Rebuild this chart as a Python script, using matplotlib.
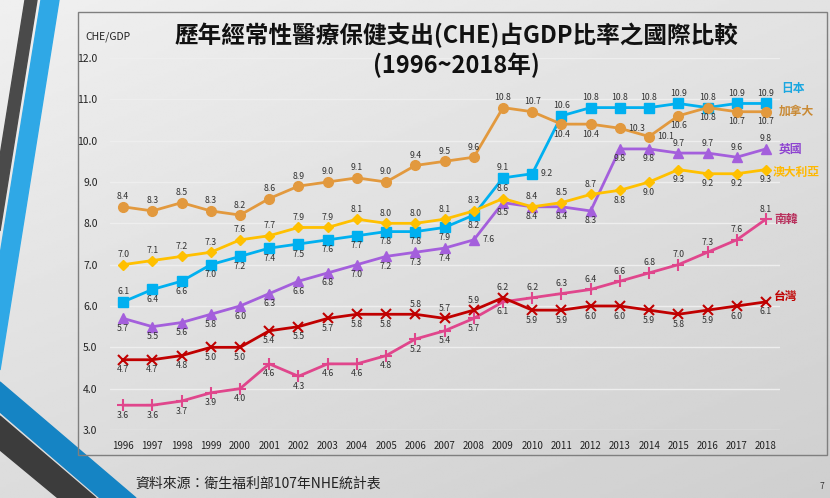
import numpy as np
import matplotlib.pyplot as plt
from matplotlib.patches import Polygon, Rectangle

plt.rcParams['font.family'] = ['Noto Sans CJK TC', 'DejaVu Sans']

years = list(range(1996, 2019))

japan = [6.1, 6.4, 6.6, 7.0, 7.2, 7.4, 7.5, 7.6, 7.7, 7.8, 7.8, 7.9, 8.2,
         9.1, 9.2, 10.6, 10.8, 10.8, 10.8, 10.9, 10.8, 10.9, 10.9]
canada = [8.4, 8.3, 8.5, 8.3, 8.2, 8.6, 8.9, 9.0, 9.1, 9.0, 9.4, 9.5, 9.6,
          10.8, 10.7, 10.4, 10.4, 10.3, 10.1, 10.6, 10.8, 10.7, 10.7]
australia = [7.0, 7.1, 7.2, 7.3, 7.6, 7.7, 7.9, 7.9, 8.1, 8.0, 8.0, 8.1, 8.3,
             8.6, 8.4, 8.5, 8.7, 8.8, 9.0, 9.3, 9.2, 9.2, 9.3]
uk = [5.7, 5.5, 5.6, 5.8, 6.0, 6.3, 6.6, 6.8, 7.0, 7.2, 7.3, 7.4, 7.6,
      8.5, 8.4, 8.4, 8.3, 9.8, 9.8, 9.7, 9.7, 9.6, 9.8]
korea = [3.6, 3.6, 3.7, 3.9, 4.0, 4.6, 4.3, 4.6, 4.6, 4.8, 5.2, 5.4, 5.7,
         6.1, 6.2, 6.3, 6.4, 6.6, 6.8, 7.0, 7.3, 7.6, 8.1]
taiwan = [4.7, 4.7, 4.8, 5.0, 5.0, 5.4, 5.5, 5.7, 5.8, 5.8, 5.8, 5.7, 5.9,
          6.2, 5.9, 5.9, 6.0, 6.0, 5.9, 5.8, 5.9, 6.0, 6.1]

names = ['日本', '加拿大', '英國', '澳大利亞', '南韓', '台灣']

# style: (values, line colour, name colour, marker, marker size, label sides, name offset)
series = [
    (japan, '#00B0F0', '#1AA7E0', 's', 7, 'a' + 'b' * 12 + 'ar' + 'a' * 8, (11, 11)),
    (canada, '#E2993E', '#C98A35', 'o', 7, 'a' * 15 + 'bbrrbbbb', (9, 0)),
    (uk, '#A45FDC', '#8E44D0', '^', 7, 'b' * 12 + 'r' + 'b' * 6 + 'aaaa', (9, 0)),
    (australia, '#FFC000', '#FFB800', 'D', 5.5, 'a' * 17 + 'b' * 6, (5, -2)),
    (korea, '#E0468C', '#B8325E', '+', 8, 'b' * 14 + 'a' * 9, (6, 0)),
    (taiwan, '#C00000', '#C00000', 'x', 7, 'b' * 10 + 'a' * 4 + 'b' * 9, (6, 4)),
]

fig = plt.figure(figsize=(8.3, 4.98), dpi=100)

# slide background
bg = fig.add_axes([0, 0, 1, 1], zorder=0)
gy, gx = np.mgrid[0:1:200j, 0:1:200j]
grad = 0.94 - 0.13 * (0.6 * gy + 0.4 * gx)
bg.imshow(grad, cmap='gray', vmin=0, vmax=1, extent=(0, 830, 498, 0), aspect='auto')
bg.set_xlim(0, 830)
bg.set_ylim(498, 0)
bg.axis('off')
bg.add_patch(Polygon([(25, 0), (37, 0), (0, 231), (0, 156)], color='#4A4A4A'))
bg.add_patch(Polygon([(41, 0), (59, 0), (0, 370), (0, 255)], color='#2FA8E6'))
bg.add_patch(Polygon([(0, 382), (136, 498), (100, 498), (0, 412)], color='#1584C4'))
bg.add_patch(Polygon([(0, 416), (96, 498), (58, 498), (0, 450)], color='#3C3C3C'))
bg.add_patch(Rectangle((78, 12), 749, 443, fill=False, ec='#7F7F7F', lw=1))

ax = fig.add_axes([110 / 830, 1 - 430 / 498, 670 / 830, 372 / 498], zorder=2)
ax.set_facecolor('none')
x = np.arange(len(years))
ax.set_xlim(-0.45, 22.48)
ax.set_ylim(3, 12)
ax.set_yticks(np.arange(3, 13))
ax.set_yticklabels([f'{v:.1f}' for v in range(3, 13)], fontsize=7.5, color='#222222')
ax.set_xticks(x)
ax.set_xticklabels([str(y) for y in years], fontsize=7, color='#222222')
ax.tick_params(length=0)
ax.tick_params(axis='y', pad=9)
ax.tick_params(axis='x', pad=8)
for s in ax.spines.values():
    s.set_visible(False)
ax.grid(axis='y', color='#EEEEEE', lw=1)
ax.set_axisbelow(True)

offsets = {'a': ((0, 4), 'center', 'bottom'),
           'b': ((0, -4), 'center', 'top'),
           'r': ((6, 0), 'left', 'center')}

for (vals, col, ncol, mk, ms, sides, noff), name in zip(series, names):
    mew = 1.5 if mk in '+x' else 1
    ax.plot(x, vals, color=col, lw=2, marker=mk, ms=ms, mec=col, mfc=col,
            mew=mew, clip_on=False, zorder=3)
    for xi, v, sd in zip(x, vals, sides):
        off, ha, va = offsets[sd]
        ax.annotate(f'{v:.1f}', (xi, v), xytext=off, textcoords='offset points',
                    ha=ha, va=va, fontsize=6.3, color='#333333', zorder=4)
    ax.annotate(name, (x[-1], vals[-1]), xytext=noff, textcoords='offset points',
                ha='left', va='center', fontsize=8.5, color=ncol, fontweight='bold')

fig.text(456 / 830, 1 - 35 / 498, '歷年經常性醫療保健支出(CHE)占GDP比率之國際比較',
         ha='center', va='center', fontsize=17, fontweight='bold', color='#111111')
fig.text(456 / 830, 1 - 65 / 498, '(1996~2018年)',
         ha='center', va='center', fontsize=17, fontweight='bold', color='#111111')
fig.text(85 / 830, 1 - 37 / 498, 'CHE/GDP', ha='left', va='center',
         fontsize=7.5, color='#222222')
fig.text(135 / 830, 1 - 484 / 498, '資料來源：衛生福利部107年NHE統計表',
         ha='left', va='center', fontsize=10, color='#222222')
fig.text(822 / 830, 1 - 486 / 498, '7', ha='center', va='center',
         fontsize=6, color='#333333')

fig.savefig('out.png', dpi=100)
